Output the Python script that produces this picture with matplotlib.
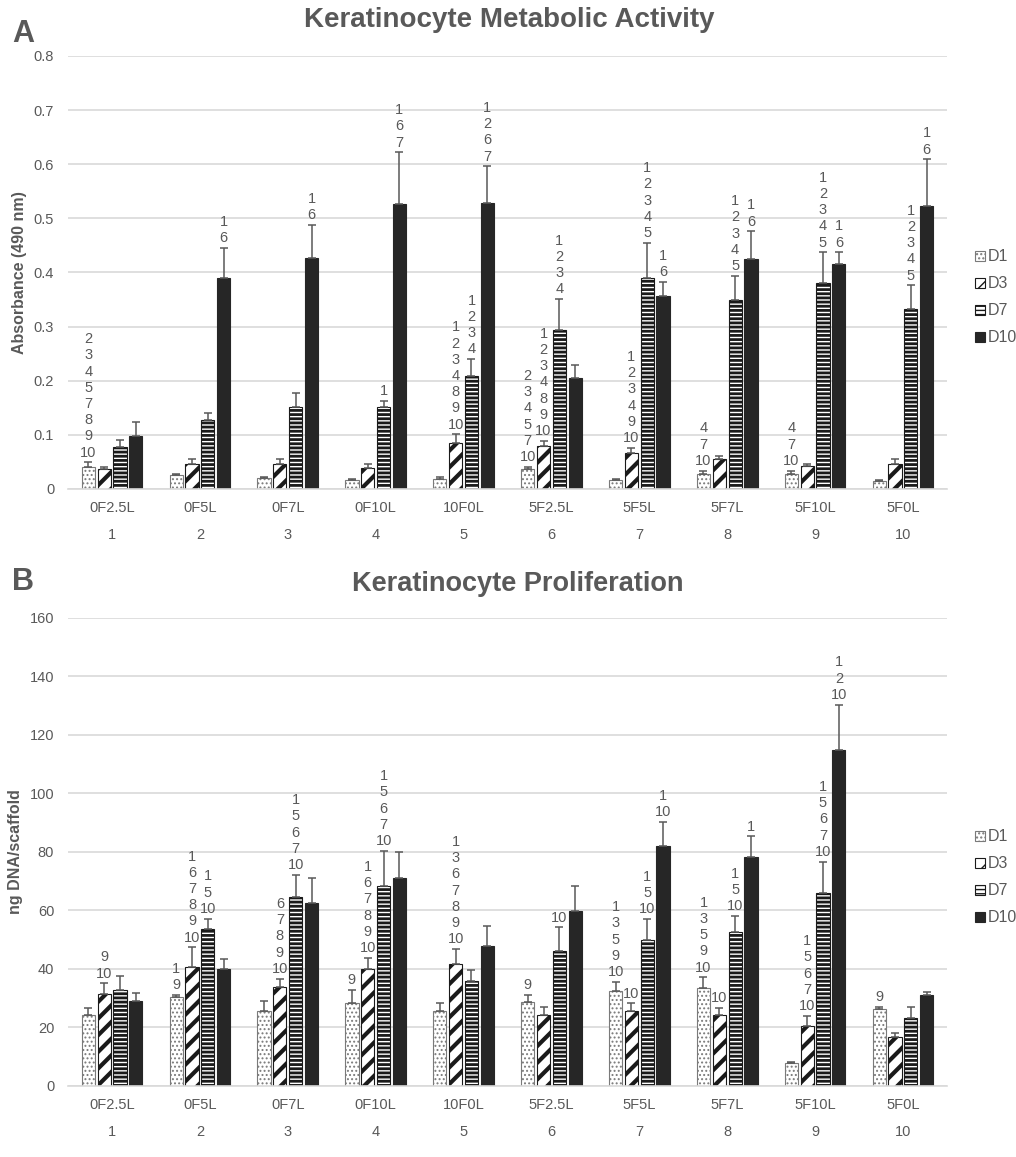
import numpy as np
import matplotlib
matplotlib.use("Agg")
import matplotlib.pyplot as plt
from matplotlib.patches import Patch

plt.rcParams['font.family'] = ['Liberation Sans', 'DejaVu Sans']

GRAY = '#595959'
GRID = '#d9d9d9'

groups = ['0F2.5L', '0F5L', '0F7L', '0F10L', '10F0L', '5F2.5L', '5F5L', '5F7L', '5F10L', '5F0L']
group_nums = ['1', '2', '3', '4', '5', '6', '7', '8', '9', '10']
series = ['D1', 'D3', 'D7', 'D10']

# metabolic activity (absorbance 490 nm), mean and upper error
abs_d1 = [0.041, 0.025, 0.020, 0.016, 0.018, 0.037, 0.016, 0.028, 0.028, 0.014]
abs_d3 = [0.036, 0.047, 0.047, 0.038, 0.084, 0.079, 0.066, 0.055, 0.043, 0.046]
abs_d7 = [0.077, 0.127, 0.151, 0.152, 0.209, 0.293, 0.389, 0.349, 0.381, 0.332]
abs_d10 = [0.098, 0.389, 0.426, 0.526, 0.528, 0.205, 0.357, 0.425, 0.415, 0.523]
abs_d1_err = [0.008, 0.003, 0.003, 0.003, 0.005, 0.004, 0.003, 0.006, 0.006, 0.003]
abs_d3_err = [0.005, 0.008, 0.008, 0.008, 0.017, 0.010, 0.010, 0.006, 0.004, 0.009]
abs_d7_err = [0.013, 0.013, 0.026, 0.010, 0.031, 0.058, 0.066, 0.045, 0.056, 0.044]
abs_d10_err = [0.025, 0.057, 0.062, 0.096, 0.068, 0.024, 0.025, 0.051, 0.022, 0.086]

abs_d1_sig = ['2\n3\n4\n5\n7\n8\n9\n10', '', '', '', '', '2\n3\n4\n5\n7\n10', '', '4\n7\n10', '4\n7\n10', '']
abs_d3_sig = ['', '', '', '', '1\n2\n3\n4\n8\n9\n10', '1\n2\n3\n4\n8\n9\n10', '1\n2\n3\n4\n9\n10', '', '', '']
abs_d7_sig = ['', '', '', '1', '1\n2\n3\n4', '1\n2\n3\n4', '1\n2\n3\n4\n5', '1\n2\n3\n4\n5', '1\n2\n3\n4\n5', '1\n2\n3\n4\n5']
abs_d10_sig = ['', '1\n6', '1\n6', '1\n6\n7', '1\n2\n6\n7', '', '1\n6', '1\n6', '1\n6', '1\n6']

# proliferation (ng DNA / scaffold)
dna_d1 = [24.2, 30.5, 25.7, 28.2, 25.6, 28.8, 32.4, 33.6, 7.9, 26.2]
dna_d3 = [31.3, 40.6, 33.7, 39.9, 41.7, 24.1, 25.6, 24.2, 20.5, 16.8]
dna_d7 = [32.7, 53.6, 64.5, 68.5, 35.9, 46.1, 49.9, 52.7, 65.9, 23.3]
dna_d10 = [29.0, 39.9, 62.5, 71.0, 47.8, 59.8, 82.1, 78.4, 115.0, 31.1]
dna_d1_err = [2.6, 0.6, 3.4, 4.6, 2.6, 2.3, 3.2, 3.5, 0.4, 0.9]
dna_d3_err = [3.8, 6.8, 3.0, 3.9, 5.1, 3.0, 2.6, 2.5, 3.5, 1.4]
dna_d7_err = [4.9, 3.6, 7.7, 11.9, 3.7, 8.1, 7.1, 5.4, 10.8, 3.8]
dna_d10_err = [2.9, 3.4, 8.7, 8.9, 6.9, 8.4, 8.3, 6.9, 15.4, 1.1]

dna_d1_sig = ['', '1\n9', '', '9', '', '9', '1\n3\n5\n9\n10', '1\n3\n5\n9\n10', '', '9']
dna_d3_sig = ['9\n10', '1\n6\n7\n8\n9\n10', '6\n7\n8\n9\n10', '1\n6\n7\n8\n9\n10', '1\n3\n6\n7\n8\n9\n10', '', '10', '10', '1\n5\n6\n7\n10', '']
dna_d7_sig = ['', '1\n5\n10', '1\n5\n6\n7\n10', '1\n5\n6\n7\n10', '', '10', '1\n5\n10', '1\n5\n10', '1\n5\n6\n7\n10', '']
dna_d10_sig = ['', '', '', '', '', '', '1\n10', '1', '1\n2\n10', '']

# bar styles: (facecolor, edgecolor, hatch, hatch linewidth)
styles = [
    ('white', '#7a7a7a', '....', 0.9),
    ('white', '#1a1a1a', '//', 3.0),
    ('white', '#1a1a1a', '----', 2.0),
    ('#262626', '#262626', None, 1.0),
]

width = 0.15
step = 0.18


def draw_panel(ax, means, errs, sigs, ymax, ystep, fmt):
    x = np.arange(len(groups))
    for i, (m, e, s) in enumerate(zip(means, errs, sigs)):
        fc, ec, hatch, hlw = styles[i]
        xs = x + (i - 1.5) * step
        with plt.rc_context({'hatch.linewidth': hlw}):
            ax.bar(xs, m, width, color=fc, edgecolor=ec, hatch=hatch, linewidth=0.8, zorder=2)
        ax.errorbar(xs, m, yerr=[np.zeros(len(m)), e], fmt='none', ecolor=GRAY,
                    elinewidth=1.1, capsize=2.6, capthick=1.1, zorder=3)
        for xi, mi, ei, txt in zip(xs, m, e, s):
            if txt:
                ax.annotate(txt, (xi, mi + ei), xytext=(0, 2), textcoords='offset points',
                            ha='center', va='bottom', fontsize=10.5, color=GRAY, linespacing=1.2)
    ax.set_xlim(-0.5, len(groups) - 0.5)
    ax.set_ylim(0, ymax)
    ax.set_yticks(np.arange(0, ymax + ystep / 2, ystep))
    ax.set_yticklabels([fmt(v) for v in np.arange(0, ymax + ystep / 2, ystep)])
    ax.yaxis.grid(True, color=GRID, linewidth=1.2, zorder=0)
    ax.set_axisbelow(True)
    for sp in ['top', 'right', 'left']:
        ax.spines[sp].set_visible(False)
    ax.spines['bottom'].set_color(GRID)
    ax.spines['bottom'].set_linewidth(1.2)
    ax.set_xticks(x)
    ax.set_xticklabels([f'{g}\n{n}' for g, n in zip(groups, group_nums)], linespacing=2.1)
    ax.tick_params(axis='both', length=0, labelsize=10.5, labelcolor=GRAY)
    ax.tick_params(axis='x', pad=9)
    ax.tick_params(axis='y', pad=10)


fig = plt.figure(figsize=(10.16, 11.57), dpi=100)
ax1 = fig.add_axes([0.067, 0.5774, 0.865, 0.3742])
ax2 = fig.add_axes([0.067, 0.0614, 0.865, 0.4045])

draw_panel(ax1, [abs_d1, abs_d3, abs_d7, abs_d10],
           [abs_d1_err, abs_d3_err, abs_d7_err, abs_d10_err],
           [abs_d1_sig, abs_d3_sig, abs_d7_sig, abs_d10_sig],
           0.8, 0.1, lambda v: '0' if v == 0 else f'{v:.1f}')
draw_panel(ax2, [dna_d1, dna_d3, dna_d7, dna_d10],
           [dna_d1_err, dna_d3_err, dna_d7_err, dna_d10_err],
           [dna_d1_sig, dna_d3_sig, dna_d7_sig, dna_d10_sig],
           160, 20, lambda v: f'{v:.0f}')

ax1.set_ylabel('Absorbance (490 nm)', fontsize=11.5, fontweight='bold', color=GRAY, labelpad=5)
ax2.set_ylabel('ng DNA/scaffold', fontsize=11.5, fontweight='bold', color=GRAY, labelpad=5)

fig.text(509 / 1016, 1 - 20 / 1157, 'Keratinocyte Metabolic Activity', ha='center', va='center',
         fontsize=20, fontweight='bold', color=GRAY)
fig.text(518 / 1016, 1 - 584 / 1157, 'Keratinocyte Proliferation', ha='center', va='center',
         fontsize=19.5, fontweight='bold', color=GRAY)
fig.text(12 / 1016, 1 - 34 / 1157, 'A', ha='left', va='center', fontsize=22, fontweight='bold', color=GRAY)
fig.text(12 / 1016, 1 - 582 / 1157, 'B', ha='left', va='center', fontsize=22, fontweight='bold', color=GRAY)

handles = []
for (fc, ec, hatch, hlw), name in zip(styles, series):
    with plt.rc_context({'hatch.linewidth': hlw}):
        handles.append(Patch(facecolor=fc, edgecolor=ec, hatch=hatch, linewidth=0.8, label=name))

for ax, ytop in [(ax1, 243), (ax2, 823)]:
    ax.legend(handles=handles, loc='upper left', bbox_to_anchor=(969 / 1016, 1 - ytop / 1157),
              bbox_transform=fig.transFigure, frameon=False, fontsize=11.5, labelcolor=GRAY,
              handlelength=0.6, handleheight=0.6, handletextpad=0.2, labelspacing=0.75,
              borderaxespad=0)

fig.savefig('out.png', dpi=100)
